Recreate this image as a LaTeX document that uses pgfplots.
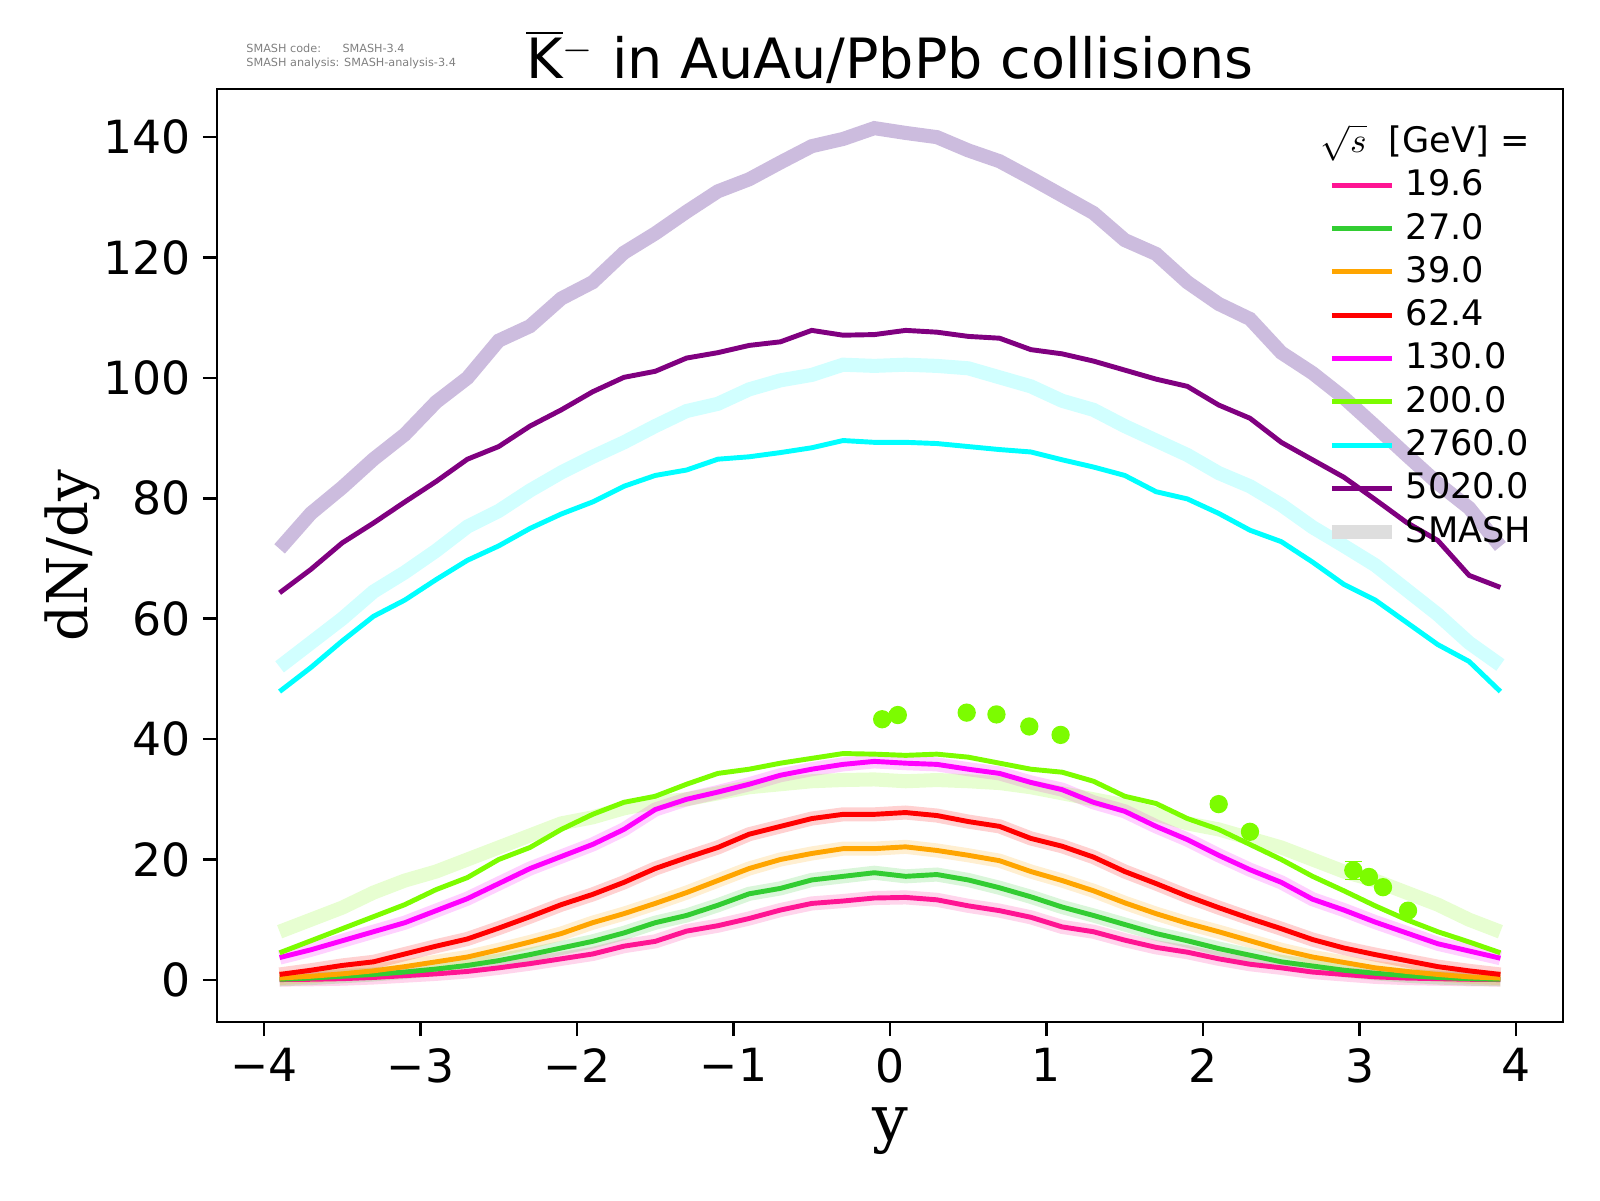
\documentclass[border=0pt]{standalone}
\usepackage{pgfplots}
\usepackage{pgfplotstable}
\pgfplotsset{compat=1.18}
\usepackage{fontspec}
\setmainfont{DejaVu Sans}
\newfontfamily\serif{DejaVu Serif}
\definecolor{cA}{HTML}{FF1493}
\definecolor{cB}{HTML}{32CD32}
\definecolor{cC}{HTML}{FFA500}
\definecolor{cD}{HTML}{FF0000}
\definecolor{cE}{HTML}{FF00FF}
\definecolor{cF}{HTML}{7CFC00}
\definecolor{cG}{HTML}{00FFFF}
\definecolor{cH}{HTML}{800080}
\definecolor{lav}{HTML}{CCBCDE}
\pgfplotstableread{
x a b c d e f g h sf sg sh
-3.9 0.05 0.1 0.3 0.9 3.7 4.5 47.9 64.3 8 52 71.6
-3.7 0.1 0.3 0.6 1.6 5 6.5 51.9 68.2 10 56 77.5
-3.5 0.2 0.6 1 2.4 6.5 8.5 56.3 72.6 12 60 81.8
-3.3 0.4 0.9 1.5 3 8 10.5 60.4 75.9 14.5 64.5 86.5
-3.1 0.7 1.3 2.2 4.3 9.5 12.5 63.1 79.4 16.5 67.7 90.6
-2.9 1 1.8 3 5.6 11.5 15 66.5 82.8 18 71.3 96
-2.7 1.4 2.4 3.8 6.8 13.5 17 69.7 86.5 20 75.3 100
-2.5 2 3.2 5 8.6 16 20 72.1 88.6 22 77.9 106.2
-2.3 2.7 4.2 6.3 10.5 18.5 22 75 92 24 81.3 108.6
-2.1 3.5 5.3 7.7 12.5 20.5 25 77.4 94.7 26 84.3 113.2
-1.9 4.3 6.4 9.5 14.2 22.5 27.5 79.4 97.7 27 86.9 115.9
-1.7 5.6 7.8 11 16.2 25 29.5 82 100.1 28.5 89.3 120.8
-1.5 6.4 9.5 12.7 18.5 28.3 30.5 83.8 101.1 29.5 92 124
-1.3 8.1 10.7 14.5 20.3 30 32.5 84.7 103.3 30 94.5 127.6
-1.1 9 12.4 16.5 22 31.2 34.3 86.5 104.2 31 95.7 131
-0.9 10.2 14.3 18.5 24.2 32.5 35 86.9 105.4 32 98.1 133
-0.7 11.6 15.2 20 25.5 34 36 87.6 106 32.5 99.6 135.8
-0.5 12.7 16.6 21 26.8 35 36.8 88.4 107.9 33 100.5 138.5
-0.3 13.1 17.2 21.8 27.5 35.8 37.6 89.6 107.1 33.2 102.2 139.7
-0.1 13.6 17.8 21.8 27.5 36.3 37.5 89.3 107.2 33.3 102 141.5
0.1 13.7 17.2 22.1 27.8 36 37.3 89.3 107.9 33 102.2 140.7
0.3 13.3 17.5 21.5 27.3 35.8 37.5 89.1 107.6 33.2 102 140
0.5 12.3 16.6 20.7 26.3 35 37 88.6 106.9 33 101.6 137.8
0.7 11.5 15.3 19.8 25.5 34.3 36 88.1 106.6 32.7 100.1 136
0.9 10.4 13.8 18 23.5 32.8 35 87.7 104.7 32 98.6 133.2
1.1 8.8 12.1 16.5 22.2 31.6 34.5 86.4 104 31 96.2 130.3
1.3 8 10.7 14.8 20.4 29.5 33 85.2 102.8 30 94.7 127.4
1.5 6.6 9.2 12.8 18 28 30.5 83.8 101.3 29 92 122.9
1.7 5.4 7.7 11 16 25.5 29.3 81.1 99.8 27.5 89.6 120.6
1.9 4.6 6.5 9.4 13.9 23.3 26.8 79.9 98.6 26 87.2 115.9
2.1 3.5 5.2 8 12 20.7 25 77.5 95.5 25 84.2 112.3
2.3 2.6 4.1 6.5 10.2 18.3 22.5 74.7 93.3 23.5 82 109.8
2.5 2 3 5 8.5 16.2 20 72.8 89.3 22 78.9 104.2
2.7 1.3 2.3 3.8 6.7 13.4 17.2 69.4 86.4 20 75.2 100.8
2.9 0.9 1.6 2.9 5.3 11.6 14.8 65.7 83.5 18 72.1 96.7
3.1 0.5 1.1 2 4.2 9.6 12.3 63.1 79.8 16.5 68.9 92
3.3 0.3 0.7 1.4 3.2 7.8 10 59.4 76 14.5 64.8 87.2
3.5 0.2 0.4 0.9 2.2 6 8 55.7 73 12.5 60.7 82.5
3.7 0.1 0.2 0.5 1.5 4.8 6.3 52.9 67.2 10 56 78.4
3.9 0.05 0.1 0.3 0.9 3.6 4.5 47.9 65.2 8 52.3 72
}\data
\begin{document}
\begin{tikzpicture}
\begin{axis}[
  at={(2.17cm,1.78cm)}, anchor=south west,
  width=13.46cm, height=9.33cm, scale only axis,
  xmin=-4.3, xmax=4.3, ymin=-7, ymax=148,
  xtick={-4,-3,...,4}, ytick={0,20,...,140},
  xticklabels={−4,−3,−2,−1,0,1,2,3,4},
  yticklabel={\pgfmathprintnumber[assume math mode=true]{\tick}},
  xticklabel style={font=\fontsize{13}{13}\selectfont},
  yticklabel style={font=\fontsize{13}{13}\selectfont},
  minor tick num=0, tick align=outside, major tick length=4pt,
  tick style={black, line width=0.7pt}, axis line style={line width=0.8pt},
  xtick pos=bottom, ytick pos=left,
  xlabel={\serif\fontsize{18}{18}\selectfont y},
  ylabel={\serif\fontsize{16}{16}\selectfont dN/dy},
  ylabel style={yshift=-6pt},
  title={\fontsize{15.8}{15.8}\selectfont $\overline{\hbox{K}}{}^{-}$ in AuAu/PbPb collisions},
  title style={yshift=-8pt},
  legend style={draw=none, fill=none, at={(0.99,0.978)}, anchor=north east,
    font=\fontsize{10}{11}\selectfont, row sep=-0.6pt},
  legend cell align=left,
  legend image code/.code={\draw[#1, line width=1.4pt] (0cm,0cm) -- (0.6cm,0cm);},
]
% SMASH faint
\addplot[cA, opacity=0.18, line width=4pt, forget plot] table[x=x,y=a]{\data};
\addplot[cB, opacity=0.18, line width=4pt, forget plot] table[x=x,y=b]{\data};
\addplot[cC, opacity=0.18, line width=4pt, forget plot] table[x=x,y=c]{\data};
\addplot[cD, opacity=0.18, line width=4pt, forget plot] table[x=x,y=d]{\data};
\addplot[cE, opacity=0.18, line width=4pt, forget plot] table[x=x,y=e]{\data};
\addplot[cF, opacity=0.18, line width=4pt, forget plot] table[x=x,y=sf]{\data};
\addplot[cG, opacity=0.18, line width=4pt, forget plot] table[x=x,y=sg]{\data};
\addplot[lav, line width=4pt, forget plot] table[x=x,y=sh]{\data};
% thin
\addplot[cA, line width=1.4pt, forget plot] table[x=x,y=a]{\data};
\addplot[cB, line width=1.4pt, forget plot] table[x=x,y=b]{\data};
\addplot[cC, line width=1.4pt, forget plot] table[x=x,y=c]{\data};
\addplot[cD, line width=1.4pt, forget plot] table[x=x,y=d]{\data};
\addplot[cE, line width=1.4pt, forget plot] table[x=x,y=e]{\data};
\addplot[cF, line width=1.4pt, forget plot] table[x=x,y=f]{\data};
\addplot[cG, line width=1.4pt, forget plot] table[x=x,y=g]{\data};
\addplot[cH, line width=1.4pt, forget plot] table[x=x,y=h]{\data};
% data points
\addplot[only marks, mark=*, mark size=2.4pt, cF, forget plot,
  error bars/.cd, y dir=both, y explicit, error bar style={line width=1.4pt}]
  table[x=x,y=y,y error=e]{
x y e
-0.05 43.3 0.5
0.05 44.0 0.5
0.49 44.4 0.5
0.68 44.1 0.5
0.89 42.1 0.5
1.09 40.7 0.5
2.10 29.2 0.5
2.30 24.6 0.5
2.96 18.2 1.5
3.06 17.1 0.5
3.15 15.4 0.5
3.31 11.5 0.5
};
\addlegendimage{empty legend}\addlegendentry{\hspace{-0.85cm}$\sqrt{s}$\ \ [GeV] =}
\addlegendimage{cA}\addlegendentry{19.6}
\addlegendimage{cB}\addlegendentry{27.0}
\addlegendimage{cC}\addlegendentry{39.0}
\addlegendimage{cD}\addlegendentry{62.4}
\addlegendimage{cE}\addlegendentry{130.0}
\addlegendimage{cF}\addlegendentry{200.0}
\addlegendimage{cG}\addlegendentry{2760.0}
\addlegendimage{cH}\addlegendentry{5020.0}
\addlegendimage{legend image code/.code={\draw[black!13, line width=4pt] (0cm,0cm) -- (0.6cm,0cm);}}\addlegendentry{SMASH}
\end{axis}
\node[anchor=north west, gray, font=\fontsize{3.2}{3.9}\selectfont, align=left] at (2.34cm,11.68cm)
  {SMASH code:\ \ \ \ \ \ SMASH-3.4\\SMASH analysis: SMASH-analysis-3.4};
\path (0,0) rectangle (16cm,12cm);
\end{tikzpicture}
\end{document}
